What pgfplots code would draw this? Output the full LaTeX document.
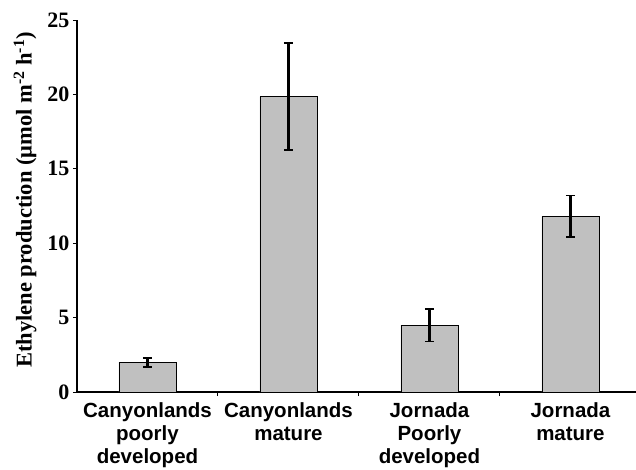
\documentclass[border=0pt]{standalone}
\usepackage{fontspec}
\setmainfont{Liberation Serif}
\newfontfamily\arialfont{Liberation Sans}
\usepackage{pgfplots}
\pgfplotsset{compat=1.18}
\definecolor{barfill}{HTML}{C0C0C0}
\pgfplotstableread{
x y e
0 2.0 0.3
1 19.85 3.6
2 4.5 1.1
3 11.8 1.4
}\datatable
\begin{document}
\begin{tikzpicture}
\begin{axis}[
  at={(0pt,0pt)}, anchor=south west,
  scale only axis,
  width=559pt, height=372pt,
  xmin=-0.5, xmax=3.465,
  ymin=0, ymax=25,
  ytick={0,5,10,15,20,25},
  axis lines*=left,
  axis line style={line width=1.2pt,-},
  tick align=outside,
  major tick length=4pt,
  tick style={line width=1pt, black},
  xtick={0.5,1.5,2.5},
  xticklabels={},
  extra x ticks={0,1,2,3},
  extra x tick labels={{Canyonlands\\poorly\\developed},{Canyonlands\\mature},{Jornada\\Poorly\\developed},{Jornada\\mature}},
  extra x tick style={major tick length=0pt, tick label style={yshift=-7pt}},
  x tick label style={font=\arialfont\bfseries\fontsize{20.5}{23}\selectfont, align=center, anchor=north},
  y tick label style={font=\bfseries\fontsize{22}{22}\selectfont},
  /pgf/number format/assume math mode=true,
  ylabel={Ethylene production (μmol m\textsuperscript{-2} h\textsuperscript{-1})},
  ylabel style={at={(axis description cs:0,0.516)}, anchor=center, yshift=52pt, font=\bfseries\fontsize{22.5}{22.5}\selectfont},
  clip=false,
]
\addplot[ybar, bar width=57pt, fill=barfill, draw=black, line width=0.9pt,
  error bars/.cd, y dir=both, y explicit,
  error bar style={line width=2.2pt, black},
  error mark options={rotate=90, mark size=4.5pt, line width=1.8pt, black}]
  table[x=x, y=y, y error=e] {\datatable};
\end{axis}
\pgfresetboundingbox
\useasboundingbox (-77pt,-77pt) rectangle (559pt,392pt);
\end{tikzpicture}
\end{document}
